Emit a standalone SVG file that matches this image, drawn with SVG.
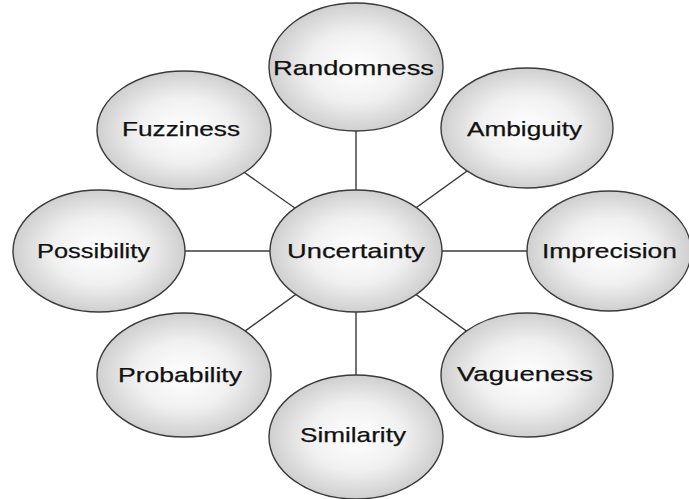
<svg xmlns="http://www.w3.org/2000/svg" width="689" height="499" viewBox="0 0 689 499">
<defs>
<radialGradient id="g" cx="50%" cy="50%" r="50%">
<stop offset="0" stop-color="#ffffff"/>
<stop offset="0.55" stop-color="#f0f0f0"/>
<stop offset="1" stop-color="#cfcfcf"/>
</radialGradient>
<style>
.n{fill:url(#g);stroke:#3a3a3a;stroke-width:1.4}
.c line{stroke:#3a3a3a;stroke-width:1.4}
text{font-family:"Liberation Sans",Arial,sans-serif;font-size:21px;fill:#111111;stroke:#111111;stroke-width:0.25;text-anchor:middle}
</style>
</defs>
<rect width="689" height="499" fill="#ffffff"/>
<g id="connectors" class="c">
<line x1="356" y1="251" x2="356" y2="67"/>
<line x1="356" y1="251" x2="184" y2="130"/>
<line x1="356" y1="251" x2="527" y2="128"/>
<line x1="356" y1="251" x2="99" y2="251"/>
<line x1="356" y1="251" x2="609" y2="251"/>
<line x1="356" y1="251" x2="184" y2="375"/>
<line x1="356" y1="251" x2="527" y2="375"/>
<line x1="356" y1="251" x2="356" y2="437"/>
</g>
<g id="randomness"><ellipse class="n" cx="356" cy="67" rx="87" ry="64"/><text x="353.5" y="75" textLength="161" lengthAdjust="spacingAndGlyphs">Randomness</text></g>
<g id="fuzziness"><ellipse class="n" cx="184" cy="130" rx="87" ry="59"/><text x="181" y="136" textLength="118" lengthAdjust="spacingAndGlyphs">Fuzziness</text></g>
<g id="ambiguity"><ellipse class="n" cx="527" cy="128" rx="86" ry="60"/><text x="524.5" y="136" textLength="115" lengthAdjust="spacingAndGlyphs">Ambiguity</text></g>
<g id="possibility"><ellipse class="n" cx="99" cy="251" rx="86" ry="61"/><text x="93.5" y="258" textLength="113" lengthAdjust="spacingAndGlyphs">Possibility</text></g>
<g id="imprecision"><ellipse class="n" cx="609" cy="251" rx="82" ry="60"/><text x="609.5" y="258" textLength="135" lengthAdjust="spacingAndGlyphs">Imprecision</text></g>
<g id="probability"><ellipse class="n" cx="184" cy="375" rx="87" ry="62"/><text x="180" y="382" textLength="124" lengthAdjust="spacingAndGlyphs">Probability</text></g>
<g id="vagueness"><ellipse class="n" cx="527" cy="375" rx="86" ry="62"/><text x="525" y="381" textLength="136" lengthAdjust="spacingAndGlyphs">Vagueness</text></g>
<g id="similarity"><ellipse class="n" cx="356" cy="437" rx="87" ry="62"/><text x="353" y="442" textLength="106" lengthAdjust="spacingAndGlyphs">Similarity</text></g>
<g id="uncertainty"><ellipse class="n" cx="356" cy="251" rx="86" ry="61"/><text x="356" y="258" textLength="138" lengthAdjust="spacingAndGlyphs">Uncertainty</text></g>
</svg>
